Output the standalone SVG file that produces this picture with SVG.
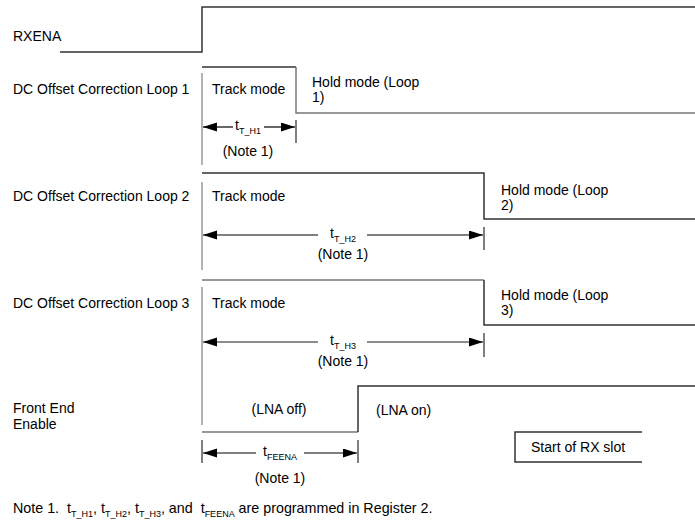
<svg xmlns="http://www.w3.org/2000/svg" width="695" height="523" viewBox="0 0 695 523">
<defs>
<marker id="ah" markerUnits="userSpaceOnUse" markerWidth="15" markerHeight="10" refX="14" refY="4.5" orient="auto"><path d="M0,0 L14,4.5 L0,9 z" fill="#000"/></marker>
</defs>
<style>
text{font-family:"Liberation Sans",Arial,sans-serif;font-size:14px;fill:#000}
.sub{font-size:9px}
.note{font-size:14.3px}
.sig{fill:none;stroke:#333;stroke-width:1.5}
.gray{stroke:#777}
.ref{stroke:#666;stroke-width:1;fill:none}
.tick{stroke:#000;stroke-width:1;fill:none}
.dim{stroke:#000;stroke-width:1.2;fill:none;marker-end:url(#ah)}
.dimg{stroke:#666;stroke-width:1.5;fill:none;marker-end:url(#ah)}
</style>
<rect width="695" height="523" fill="#fff"/>

<g id="rxena">
<path class="sig" d="M60,52 H202 V7 H695"/>
<text x="13" y="41">RXENA</text>
</g>

<g id="loop1">
<path class="sig" d="M202,67 H296"/>
<path class="sig gray" d="M296,67 V113 H695"/>
<path class="ref" d="M202,73 V165"/>
<text x="13" y="94">DC Offset Correction Loop 1</text>
<text x="212" y="94">Track mode</text>
<text x="312" y="87">Hold mode (Loop</text>
<text x="312" y="102">1)</text>
</g>

<g id="loop2">
<path class="sig" d="M202,173 H484 V219 H695"/>
<path class="ref" d="M202,182 V270"/>
<text x="13" y="201">DC Offset Correction Loop 2</text>
<text x="212" y="201">Track mode</text>
<text x="501" y="195">Hold mode (Loop</text>
<text x="501" y="210">2)</text>
</g>

<g id="loop3">
<path class="sig gray" d="M202,280 H484"/>
<path class="sig" d="M484,280 V325 H695"/>
<path class="ref" d="M202,287 V425"/>
<text x="13" y="308">DC Offset Correction Loop 3</text>
<text x="212" y="308">Track mode</text>
<text x="501" y="300">Hold mode (Loop</text>
<text x="501" y="315">3)</text>
</g>

<g id="front-end-enable">
<path class="sig gray" d="M202,432 H358"/>
<path class="sig" d="M358,432 V386 H695"/>
<text x="13" y="413">Front End</text>
<text x="13" y="429">Enable</text>
<text x="279" y="414" text-anchor="middle">(LNA off)</text>
<text x="376" y="415">(LNA on)</text>
</g>

<g id="rx-slot">
<path class="sig" d="M642,432 H515 V462 H642"/>
<text x="531" y="452">Start of RX slot</text>
</g>

<g id="connectors">
<path class="tick" d="M296,120 V143"/>
<path class="dim" d="M233,127 H203"/>
<path class="dim" d="M264,127 H295"/>
<text x="248" y="130" text-anchor="middle">t<tspan class="sub" dy="4">T_H1</tspan></text>
<text x="248" y="156" text-anchor="middle">(Note 1)</text>

<path class="tick" d="M484,227 V250"/>
<path class="dim" d="M318,235 H203"/>
<path class="dim" d="M367,235 H483"/>
<text x="343" y="238" text-anchor="middle">t<tspan class="sub" dy="4">T_H2</tspan></text>
<text x="343" y="259" text-anchor="middle">(Note 1)</text>

<path class="tick" d="M484,333 V357"/>
<path class="dimg" d="M318,342 H203"/>
<path class="dimg" d="M367,342 H483"/>
<text x="343" y="345" text-anchor="middle">t<tspan class="sub" dy="4">T_H3</tspan></text>
<text x="343" y="366" text-anchor="middle">(Note 1)</text>

<path class="tick" d="M202,440 V463"/>
<path class="tick" d="M358,440 V463"/>
<path class="dim" d="M256,453 H203"/>
<path class="dim" d="M304,453 H357"/>
<text x="280" y="456" text-anchor="middle">t<tspan class="sub" dy="4">FEENA</tspan></text>
<text x="280" y="483" text-anchor="middle">(Note 1)</text>
</g>

<g id="note">
<text class="note" x="13" y="513" xml:space="preserve">Note 1.  t<tspan class="sub" dy="4">T_H1</tspan><tspan dy="-4">, t</tspan><tspan class="sub" dy="4">T_H2</tspan><tspan dy="-4">, t</tspan><tspan class="sub" dy="4">T_H3</tspan><tspan dy="-4">, and  t</tspan><tspan class="sub" dy="4">FEENA</tspan><tspan dy="-4"> are programmed in Register 2.</tspan></text>
</g>
</svg>
